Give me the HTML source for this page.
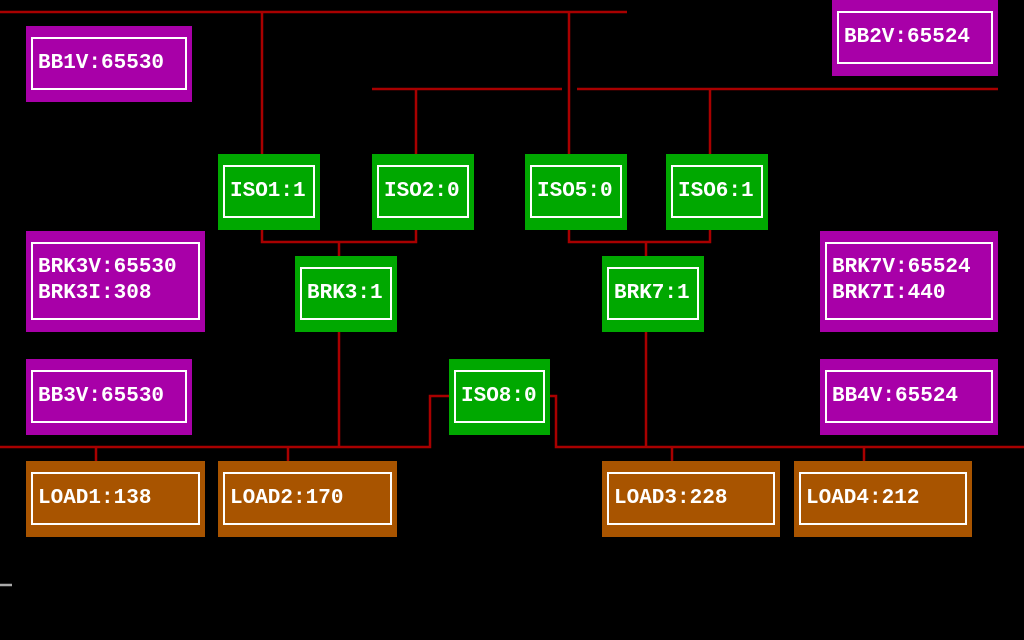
<!DOCTYPE html>
<html><head><meta charset="utf-8"><style>
body{margin:0;background:#000;width:1024px;height:640px;overflow:hidden;position:relative;font-family:"Liberation Mono","DejaVu Sans Mono",monospace;}
.b{position:absolute;}
.b>div{position:absolute;left:5px;right:5px;top:11px;bottom:12px;border:2px solid #fff;box-sizing:border-box;display:flex;flex-direction:column;justify-content:center;padding-left:5px;color:#fff;font-size:21px;font-weight:bold;line-height:26px;white-space:pre;}
.m{background:#a800a8}.g{background:#00a800}.o{background:#a85400}
</style></head><body>
<svg width="1024" height="640" style="position:absolute;left:0;top:0" fill="none" stroke="#a80000" stroke-width="2.5">
<path d="M0 12H627M262 12V155M569 12V155M372 89H562M577 89H998M416 89V155M710 89V155"/>
<path d="M262 230V242H416V230M339 242V257M569 230V242H710V230M646 242V257"/>
<path d="M339 332V447M646 332V447M0 447H430V396H449M550 396H556V447H1024"/>
<path d="M96 447V462M288 447V462M672 447V462M864 447V462"/>
<path d="M0 585H12" stroke="#aaa"/>
</svg>
<div class="b m" style="left:26px;top:26px;width:166px;height:76px"><div>BB1V:65530</div></div>
<div class="b m" style="left:832px;top:0;width:166px;height:76px"><div>BB2V:65524</div></div>
<div class="b g" style="left:218px;top:154px;width:102px;height:76px"><div>ISO1:1</div></div>
<div class="b g" style="left:372px;top:154px;width:102px;height:76px"><div>ISO2:0</div></div>
<div class="b g" style="left:525px;top:154px;width:102px;height:76px"><div>ISO5:0</div></div>
<div class="b g" style="left:666px;top:154px;width:102px;height:76px"><div>ISO6:1</div></div>
<div class="b m" style="left:26px;top:231px;width:179px;height:101px"><div>BRK3V:65530
BRK3I:308</div></div>
<div class="b m" style="left:820px;top:231px;width:178px;height:101px"><div>BRK7V:65524
BRK7I:440</div></div>
<div class="b g" style="left:295px;top:256px;width:102px;height:76px"><div>BRK3:1</div></div>
<div class="b g" style="left:602px;top:256px;width:102px;height:76px"><div>BRK7:1</div></div>
<div class="b m" style="left:26px;top:359px;width:166px;height:76px"><div>BB3V:65530</div></div>
<div class="b g" style="left:449px;top:359px;width:101px;height:76px"><div>ISO8:0</div></div>
<div class="b m" style="left:820px;top:359px;width:178px;height:76px"><div>BB4V:65524</div></div>
<div class="b o" style="left:26px;top:461px;width:179px;height:76px"><div>LOAD1:138</div></div>
<div class="b o" style="left:218px;top:461px;width:179px;height:76px"><div>LOAD2:170</div></div>
<div class="b o" style="left:602px;top:461px;width:178px;height:76px"><div>LOAD3:228</div></div>
<div class="b o" style="left:794px;top:461px;width:178px;height:76px"><div>LOAD4:212</div></div>
</body></html>
